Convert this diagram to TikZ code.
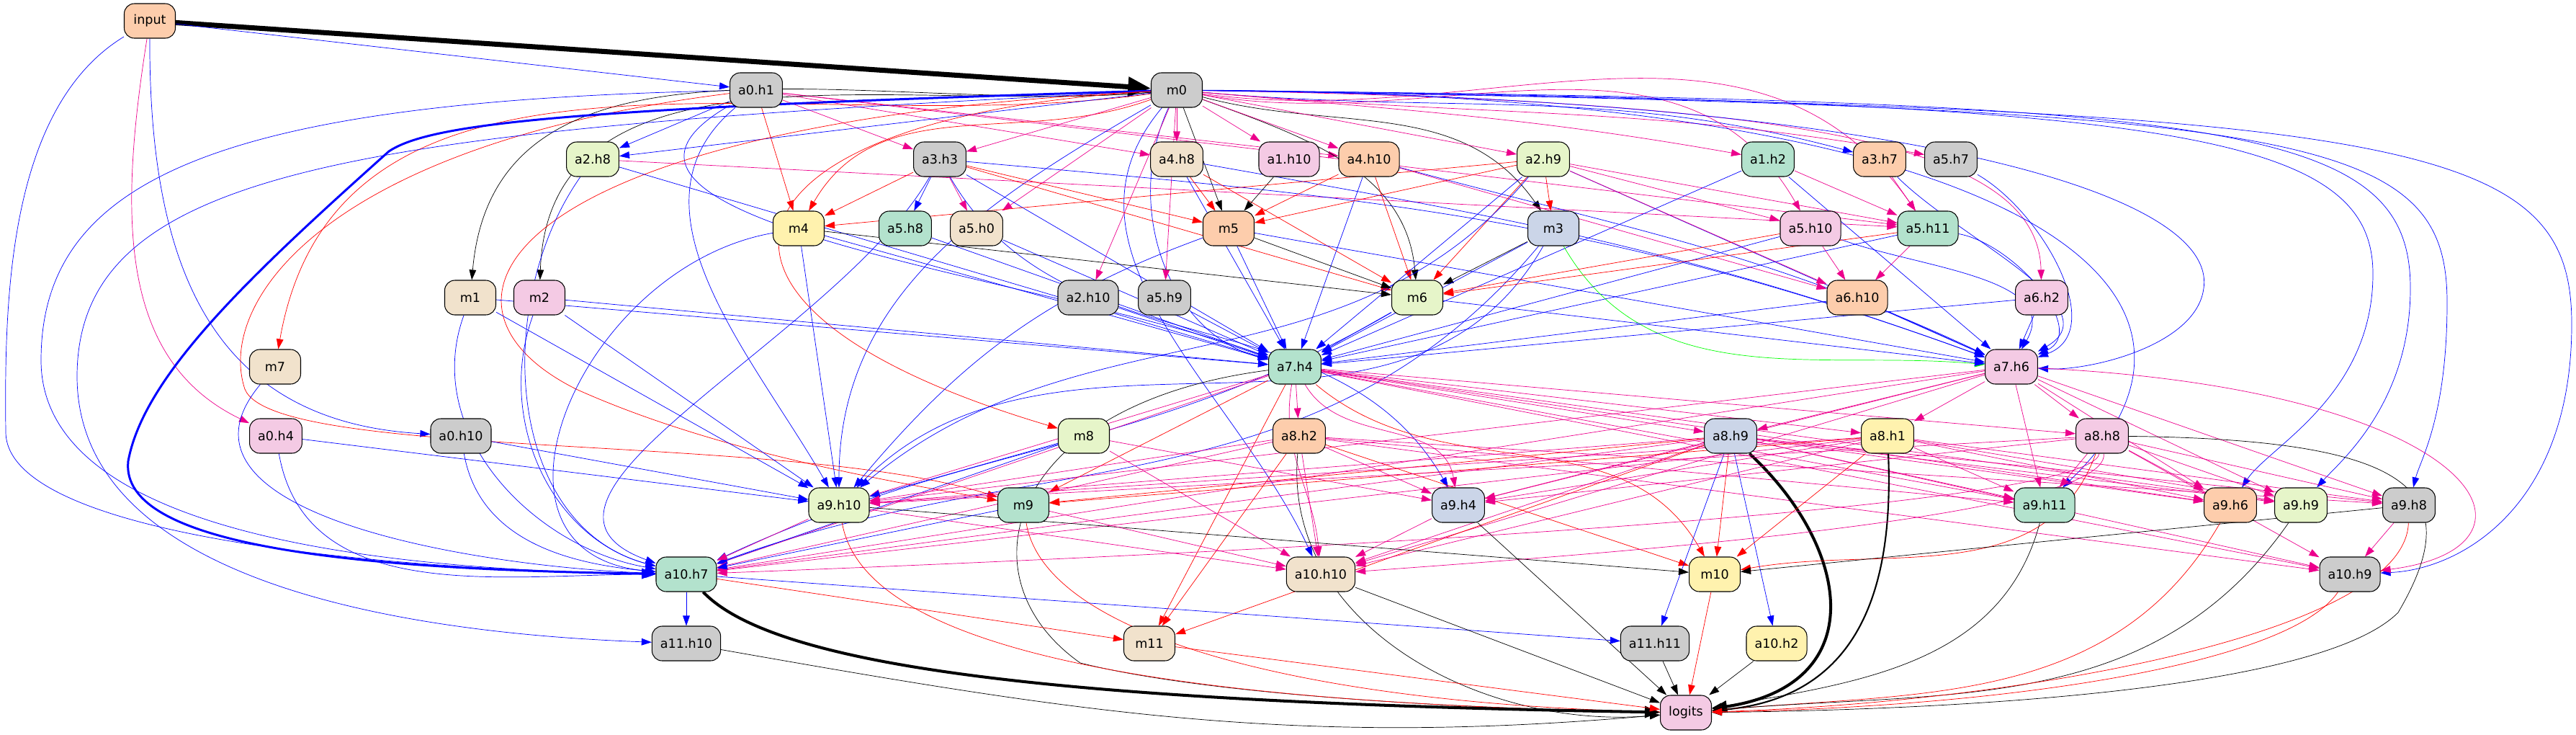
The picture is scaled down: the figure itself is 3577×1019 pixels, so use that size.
\documentclass[tikz,border=0pt]{standalone}
\usepackage{fontspec}
\setmainfont{DejaVu Sans}
\usetikzlibrary{arrows.meta,backgrounds}
\definecolor{cmint}{HTML}{B3E2CD}
\definecolor{cpeach}{HTML}{FDCDAC}
\definecolor{csteel}{HTML}{CBD5E8}
\definecolor{crose}{HTML}{F4CAE4}
\definecolor{clime}{HTML}{E6F5C9}
\definecolor{clemon}{HTML}{FFF2AE}
\definecolor{csand}{HTML}{F1E2CC}
\definecolor{cash}{HTML}{CCCCCC}
\tikzset{
  comp/.style={draw,rounded corners=8pt,minimum width=1.42cm,minimum height=0.96cm,
    inner xsep=0.23cm,inner ysep=0pt,line width=0.6pt,font=\fontsize{10}{12}\selectfont},
  mintbox/.style={comp,fill=cmint},
  peachbox/.style={comp,fill=cpeach},
  steelbox/.style={comp,fill=csteel},
  rosebox/.style={comp,fill=crose},
  limebox/.style={comp,fill=clime},
  lemonbox/.style={comp,fill=clemon},
  sandbox/.style={comp,fill=csand},
  ashbox/.style={comp,fill=cash}
}
\begin{document}
\begin{tikzpicture}[x=0.02cm,y=-0.02cm,line width=0.6pt,>={Stealth[length=8pt,width=5.5pt,inset=0pt]}]
  \useasboundingbox (0,0) rectangle (3577,1019);
  \node[peachbox] (input)  at (208,29)   {input};
  \node[ashbox]   (a0h1)   at (1050,125) {a0.h1};
  \node[ashbox]   (m0)     at (1634,125) {m0};
  \node[limebox]  (a2h8)   at (823,221)  {a2.h8};
  \node[ashbox]   (a3h3)   at (1305,221) {a3.h3};
  \node[sandbox]  (a4h8)   at (1634,221) {a4.h8};
  \node[rosebox]  (a1h10)  at (1790,221) {a1.h10};
  \node[peachbox] (a4h10)  at (1901,221) {a4.h10};
  \node[limebox]  (a2h9)   at (2143,221) {a2.h9};
  \node[mintbox]  (a1h2)   at (2455,221) {a1.h2};
  \node[peachbox] (a3h7)   at (2610,221) {a3.h7};
  \node[ashbox]   (a5h7)   at (2709,221) {a5.h7};
  \node[lemonbox] (m4)     at (1109,317) {m4};
  \node[mintbox]  (a5h8)   at (1257,317) {a5.h8};
  \node[sandbox]  (a5h0)   at (1356,317) {a5.h0};
  \node[peachbox] (m5)     at (1706,317) {m5};
  \node[steelbox] (m3)     at (2157,317) {m3};
  \node[rosebox]  (a5h10)  at (2514,317) {a5.h10};
  \node[mintbox]  (a5h11)  at (2677,317) {a5.h11};
  \node[sandbox]  (m1)     at (653,413)  {m1};
  \node[rosebox]  (m2)     at (749,413)  {m2};
  \node[ashbox]   (a2h10)  at (1511,413) {a2.h10};
  \node[ashbox]   (a5h9)   at (1617,413) {a5.h9};
  \node[limebox]  (m6)     at (1968,413) {m6};
  \node[peachbox] (a6h10)  at (2579,413) {a6.h10};
  \node[rosebox]  (a6h2)   at (2835,413) {a6.h2};
  \node[sandbox]  (m7)     at (382,509)  {m7};
  \node[mintbox]  (a7h4)   at (1798,509) {a7.h4};
  \node[rosebox]  (a7h6)   at (2793,509) {a7.h6};
  \node[rosebox]  (a0h4)   at (383,605)  {a0.h4};
  \node[ashbox]   (a0h10)  at (640,605)  {a0.h10};
  \node[limebox]  (m8)     at (1505,605) {m8};
  \node[peachbox] (a8h2)   at (1804,605) {a8.h2};
  \node[steelbox] (a8h9)   at (2403,605) {a8.h9};
  \node[lemonbox] (a8h1)   at (2621,605) {a8.h1};
  \node[rosebox]  (a8h8)   at (2919,605) {a8.h8};
  \node[limebox]  (a9h10)  at (1165,701) {a9.h10};
  \node[mintbox]  (m9)     at (1421,701) {m9};
  \node[steelbox] (a9h4)   at (2025,701) {a9.h4};
  \node[mintbox]  (a9h11)  at (2839,701) {a9.h11};
  \node[peachbox] (a9h6)   at (3097,701) {a9.h6};
  \node[limebox]  (a9h9)   at (3195,701) {a9.h9};
  \node[ashbox]   (a9h8)   at (3345,701) {a9.h8};
  \node[mintbox]  (a10h7)  at (953,797)  {a10.h7};
  \node[sandbox]  (a10h10) at (1834,797) {a10.h10};
  \node[lemonbox] (m10)    at (2381,797) {m10};
  \node[ashbox]   (a10h9)  at (3263,797) {a10.h9};
  \node[ashbox]   (a11h10) at (953,893)  {a11.h10};
  \node[sandbox]  (m11)    at (1596,893) {m11};
  \node[ashbox]   (a11h11) at (2298,893) {a11.h11};
  \node[lemonbox] (a10h2)  at (2467,893) {a10.h2};
  \node[rosebox]  (logits) at (2341,989) {logits};

  \begin{scope}[on background layer]
  \path[->] (input) edge[line width=4pt,-{Stealth[length=18pt,width=15pt,inset=0pt]}] (m0)
                    edge[blue] (a0h1);
  \draw[->,magenta] (input) .. controls (165,300) and (165,500) .. (a0h4);
  \draw[->,blue] (input) .. controls (207,380) and (300,585) .. (a0h10);
  \draw[->,blue] (input) .. controls (10,150) and (6,420) .. (8,600)
                         .. controls (10,740) and (500,790) .. (a10h7);

  \path[->] (a0h1) edge[blue] (a2h8)
                   edge[red] (m4)
                   edge[blue,out=-150,in=160] (a7h4)
                   edge[blue,out=-140,in=120] (a9h10)
                   edge[magenta] (a3h3)
                   edge[magenta] (a4h8)
                   edge[magenta] (a4h10)
                   edge[magenta] (a5h11);
  \draw[->,blue] (a0h1) .. controls (300,140) and (57,250) .. (57,500)
                        .. controls (57,720) and (450,790) .. (a10h7);
  \draw[->,red] (a0h1) .. controls (450,200) and (300,420) .. (340,540)
                       .. controls (380,640) and (1100,600) .. (m9);

  \path[->] (m0) edge[out=185,in=85] (m1)
                 edge[out=185,in=88] (m2)
                 edge (m5)
                 edge[out=-15,in=125] (m3)
                 edge[out=-20,in=95] (m6)
                 edge[red,out=188,in=80] (m7)
                 edge[red,out=200,in=60] (m4)
                 edge[blue] (a2h8)
                 edge[blue,out=-5,in=165] (a3h7)
                 edge[blue,out=-115,in=165] (a7h4)
                 edge[blue,out=-130,in=115] (a10h10)
                 edge[blue,out=-150,in=90] (a9h10)
                 edge[magenta] (a3h3)
                 edge[magenta] (a4h8)
                 edge[magenta] (a1h10)
                 edge[magenta] (a4h10)
                 edge[magenta] (a2h9)
                 edge[magenta,out=-5,in=170] (a1h2)
                 edge[magenta,out=-5,in=170] (a5h7)
                 edge[magenta] (a5h0)
                 edge[magenta] (a2h10)
                 edge[magenta] (a5h9)
                 edge[magenta,out=-10,in=120] (a5h10)
                 edge[magenta,out=-8,in=125] (a5h11);
  \draw[blue,line width=1.7pt,-{Stealth[length=11pt,width=8pt,inset=0pt]}] (m0)
        .. controls (800,150) and (600,170) .. (540,210)
        .. controls (350,380) and (200,520) .. (178,640)
        .. controls (165,760) and (500,790) .. (a10h7);
  \draw[->,blue] (m0) .. controls (500,180) and (110,230) .. (107,520)
                      .. controls (105,820) and (600,880) .. (a11h10);
  \draw[->,red] (m0) .. controls (1000,160) and (880,420) .. (m8);
  \draw[->,red] (m0) .. controls (700,170) and (560,420) .. (800,540)
                     .. controls (1000,630) and (1250,670) .. (m9);
  \draw[->,magenta] (m0) .. controls (2500,140) and (2830,200) .. (a6h2);
  \draw[->,blue] (m0) .. controls (2600,135) and (3080,260) .. (3060,400)
                      .. controls (3050,480) and (2900,515) .. (a7h6);
  \draw[->,blue] (m0) .. controls (2800,130) and (3150,400) .. (a9h11);
  \draw[->,blue] (m0) .. controls (3000,140) and (3295,180) .. (3295,380)
                      .. controls (3295,550) and (3150,620) .. (a9h6);
  \draw[->,blue] (m0) .. controls (3100,140) and (3347,170) .. (3347,400)
                      .. controls (3347,560) and (3250,640) .. (a9h9);
  \draw[->,blue] (m0) .. controls (3200,150) and (3398,180) .. (3398,420)
                      .. controls (3398,580) and (3360,640) .. (a9h8);
  \draw[->,blue] (m0) .. controls (3350,150) and (3571,190) .. (3571,450)
                      .. controls (3571,700) and (3420,790) .. (a10h9);

  \path[->] (a2h8) edge[magenta] (a5h11)
                   edge[blue] (a7h4)
                   edge[blue,out=-125,in=165] (a10h7);
  \path[->] (a3h3) edge[blue] (a5h8)
                   edge[magenta] (a5h0)
                   edge[red] (m5)
                   edge[red] (m6)
                   edge[red] (m4)
                   edge[blue] (a7h4)
                   edge[blue,out=-5,in=160] (a7h6)
                   edge[blue,out=-60,in=120] (a9h4)
                   edge[blue,out=-120,in=160] (a10h7);
  \path[->] (a4h8) edge[red] (m5)
                   edge[red] (m6)
                   edge[blue] (a7h4)
                   edge[blue,out=-10,in=160] (a7h6);
  \path[->] (a1h10) edge (m5);
  \path[->] (a4h10) edge[red] (m5)
                    edge[red] (m6)
                    edge[blue] (a7h4)
                    edge[blue,out=-15,in=155] (a7h6)
                    edge[magenta] (a6h10);
  \path[->] (a2h9) edge[red] (m4)
                   edge[red] (m5)
                   edge[red] (m6)
                   edge[red] (m3)
                   edge[blue] (a7h4)
                   edge[blue] (a7h6)
                   edge[blue,out=-130,in=40] (a9h10)
                   edge[magenta] (a5h10)
                   edge[magenta] (a5h11)
                   edge[magenta] (a6h10);
  \path[->] (a1h2) edge[magenta] (a5h11)
                   edge[blue] (a7h4)
                   edge[blue] (a7h6);
  \path[->] (a3h7) edge[magenta] (a5h11)
                   edge[blue,out=-45,in=30] (a7h6);
  \path[->] (a5h7) edge[blue,out=-30,in=20] (a7h6);

  \path[->] (m4) edge (m6)
                 edge[blue] (a7h4)
                 edge[blue] (a9h10)
                 edge[blue,out=190,in=175,looseness=1.4] (a10h7);
  \path[->] (a5h8) edge[blue] (a7h4);
  \path[->] (a5h0) edge[blue] (a7h4);
  \path[->] (m5) edge (m6)
                 edge[blue] (a7h4)
                 edge[blue] (a7h6)
                 edge[blue,out=200,in=50] (a9h10);
  \path[->] (m3) edge (m6)
                 edge[blue] (a7h4)
                 edge[blue,out=-120,in=45] (a9h10)
                 edge[blue,out=-130,in=20] (a10h7)
                 edge[green,out=-60,in=175] (a7h6);
  \path[->] (a5h10) edge[red] (m6)
                    edge[magenta] (a6h10)
                    edge[blue] (a7h4)
                    edge[blue,out=-20,in=60] (a7h6);
  \path[->] (a5h11) edge[red] (m6)
                    edge[magenta] (a6h10)
                    edge[blue] (a7h4)
                    edge[blue,out=-10,in=25] (a7h6);
  \path[->] (a2h10) edge[blue] (a7h4);
  \path[->] (a5h9) edge[blue] (a7h4);
  \path[->] (m1) edge[blue] (a7h4)
                 edge[blue] (a9h10)
                 edge[blue,out=-110,in=170] (a10h7);
  \path[->] (m2) edge[blue] (a7h4)
                 edge[blue] (a9h10)
                 edge[blue,out=-110,in=165] (a10h7);
  \path[->] (m6) edge[blue] (a7h4)
                 edge[blue] (a7h6)
                 edge[blue,out=210,in=25] (a10h7);
  \path[->] (a6h10) edge[blue] (a7h4)
                    edge[blue] (a7h6);
  \path[->] (a6h2) edge[blue] (a7h4)
                   edge[blue] (a7h6);
  \path[->] (m7) edge[blue,out=-130,in=178] (a10h7);
  \path[->] (a0h4) edge[blue,out=-80,in=180] (a10h7)
                   edge[blue] (a9h10);
  \path[->] (a0h10) edge[blue,out=-80,in=175] (a10h7)
                    edge[blue] (a9h10);

  \path[->] (a7h4) edge[magenta] (a8h2)
                   edge[magenta] (a8h9)
                   edge[magenta] (a8h1)
                   edge[magenta] (a8h8)
                   edge[magenta] (a9h10)
                   edge[magenta,out=-60,in=100] (a9h4)
                   edge[magenta] (a9h11)
                   edge[magenta] (a9h6)
                   edge[magenta] (a9h9)
                   edge[magenta] (a10h7)
                   edge[magenta,out=-100,in=95] (a10h10)
                   edge[magenta] (a10h9)
                   edge[red] (m9)
                   edge[red,out=-40,in=120] (m10)
                   edge[red] (m11);
  \draw[->] (a7h4) .. controls (1400,560) and (1330,800) .. (1500,920)
                   .. controls (1700,970) and (2100,985) .. (logits);
  \path[->] (a7h6) edge[magenta] (a8h9)
                   edge[magenta] (a8h1)
                   edge[magenta] (a8h8)
                   edge[magenta] (a9h10)
                   edge[magenta] (a9h4)
                   edge[magenta] (a9h11)
                   edge[magenta] (a9h6)
                   edge[magenta] (a9h9)
                   edge[magenta] (a9h8)
                   edge[magenta] (a10h7)
                   edge[magenta] (a10h10);
  \draw[->,magenta] (a7h6) .. controls (3450,540) and (3560,760) .. (a10h9);

  \path[->] (m8) edge[blue] (a9h10)
                 edge[blue] (a10h7)
                 edge[magenta] (a9h4)
                 edge[magenta] (a10h10);
  \path[->] (a8h2) edge[magenta] (a9h10)
                   edge[magenta] (a9h4)
                   edge[magenta] (a9h11)
                   edge[magenta] (a9h8)
                   edge[magenta] (a10h7)
                   edge[magenta] (a10h10)
                   edge[magenta] (a10h9)
                   edge[red] (m10)
                   edge[red] (m11)
                   edge[out=-95,in=185] (logits);
  \path[->] (a8h9) edge[magenta] (a9h10)
                   edge[magenta] (a9h4)
                   edge[magenta] (a9h11)
                   edge[magenta] (a9h6)
                   edge[magenta] (a9h9)
                   edge[magenta] (a9h8)
                   edge[magenta] (a10h7)
                   edge[magenta] (a10h10)
                   edge[magenta] (a10h9)
                   edge[red] (m9)
                   edge[red] (m10)
                   edge[red] (m11)
                   edge[blue] (a11h11)
                   edge[blue] (a10h2);
  \draw[line width=2.3pt,-{Stealth[length=12pt,width=9pt,inset=0pt]}] (a8h9)
        .. controls (2570,760) and (2600,950) .. (logits);
  \path[->] (a8h1) edge[magenta] (a9h10)
                   edge[magenta] (a9h4)
                   edge[magenta] (a9h11)
                   edge[magenta] (a9h6)
                   edge[magenta] (a9h9)
                   edge[magenta] (a9h8)
                   edge[magenta] (a10h7)
                   edge[magenta] (a10h10)
                   edge[red] (m9)
                   edge[red] (m10);
  \draw[line width=1.2pt,->] (a8h1) .. controls (2630,820) and (2580,970) .. (logits);
  \path[->] (a8h8) edge[magenta] (a9h10)
                   edge[magenta] (a9h4)
                   edge[magenta] (a9h11)
                   edge[magenta] (a9h6)
                   edge[magenta] (a9h9)
                   edge[magenta] (a9h8)
                   edge[magenta] (a10h9)
                   edge[red,out=-110,in=10] (m10);
  \draw[->,magenta] (a8h8) .. controls (2900,720) and (1400,780) .. (a10h7);
  \draw[->,magenta] (a8h8) .. controls (2930,720) and (2200,770) .. (a10h10);
  \draw[->] (a8h8) .. controls (3350,610) and (3430,680) .. (3330,850)
                   .. controls (3220,960) and (2700,985) .. (logits);

  \path[->] (a9h10) edge (m10)
                    edge[magenta] (a10h7)
                    edge[magenta] (a10h10);
  \draw[->,red] (a9h10) .. controls (1200,900) and (1600,975) .. (logits);
  \path[->] (m9) edge[blue] (a10h7)
                 edge[magenta] (a10h10);
  \draw[->,red] (m9) .. controls (1450,880) and (1800,975) .. (logits);
  \path[->] (a9h4) edge[magenta] (a10h10)
                   edge (logits);
  \path[->] (a9h11) edge[out=-105,in=10] (logits);
  \path[->] (a9h6) edge[red,out=-120,in=5] (logits);
  \path[->] (a9h9) edge[out=-125,in=5] (logits);
  \path[->] (a9h8) edge (m10)
                   edge[magenta] (a10h9);
  \draw[->,red] (a9h8) .. controls (3340,880) and (2800,975) .. (logits);
  \path[->] (a10h7) edge[blue] (a11h10)
                    edge[blue] (a11h11)
                    edge[red] (m11);
  \draw[line width=2.3pt,-{Stealth[length=12pt,width=9pt,inset=0pt]}] (a10h7)
        .. controls (1080,930) and (1500,975) .. (logits);
  \path[->] (a10h10) edge (logits);
  \path[->] (m10) edge[red] (logits);
  \draw[->,red] (a10h9) .. controls (3180,920) and (2800,980) .. (logits);
  \path[->] (m11) edge[red] (logits);
  \path[->] (a11h10) edge[out=-10,in=185] (logits);
  \path[->] (a11h11) edge (logits);
  \path[->] (a10h2) edge (logits);
  \end{scope}
\end{tikzpicture}
\end{document}
